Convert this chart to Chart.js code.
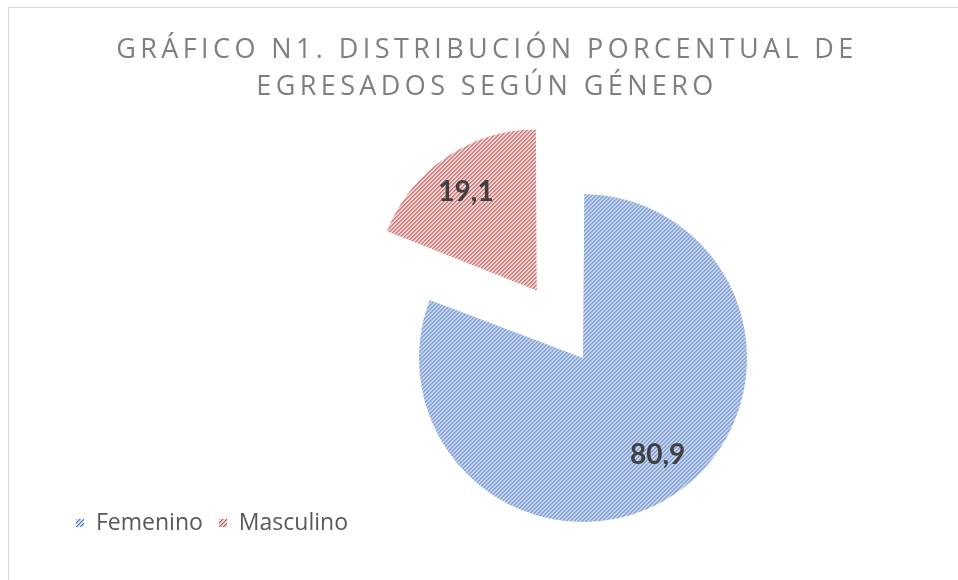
<!DOCTYPE html>
<html>
<head>
<meta charset="utf-8">
<script src="https://cdn.jsdelivr.net/npm/chart.js@4"></script>
<style>
  body { margin: 0; background: #fff; }
  #frame {
    position: absolute; left: 8px; top: 7px; width: 958px; height: 580px;
    border-left: 1px solid #d9d9d9; border-top: 1px solid #d9d9d9;
  }
  #chart { position: absolute; left: 0; top: 0; }
  #title {
    position: absolute; left: 8px; top: 29px; width: 958px; text-align: center;
    font-family: "Open Sans", sans-serif; font-size: 27px; line-height: 37px;
    letter-spacing: 4.4px; color: #7f7f7f;
  }
  #legend {
    position: absolute; left: 76px; top: 505px;
    font-family: "Open Sans", sans-serif; font-size: 23px; color: #595959;
    white-space: nowrap;
  }
  #legend span.item { margin-right: 16px; }
  #legend span.box {
    display: inline-block; width: 8px; height: 8px; margin-right: 12px;
    vertical-align: 3px;
  }
</style>
</head>
<body>
<div id="frame"></div>
<canvas id="chart" width="958" height="580"></canvas>
<div id="title">GRÁFICO N1. DISTRIBUCIÓN PORCENTUAL DE<br>EGRESADOS SEGÚN GÉNERO</div>
<div id="legend"></div>
<script>
// DATA
const categories = ["Femenino", "Masculino"];
const values = [80.9, 19.1];

// COLORS (line colour, light background)
const lineColors = ["#4472c4", "#c0504d"];
const fillColors = ["#dae3f3", "#f2dcdb"];

// hatched pattern, "/" stripes, 4px period
function makeTile(line, bg) {
  const c = document.createElement("canvas");
  c.width = 4;
  c.height = 4;
  const g = c.getContext("2d");
  g.fillStyle = bg;
  g.fillRect(0, 0, 4, 4);
  g.fillStyle = line;
  for (let x = 0; x < 4; x++) {
    g.globalAlpha = 1;
    g.fillRect(x, 3 - x, 1, 1);
    g.globalAlpha = 0.35;
    g.fillRect(x, (4 - x) % 4, 1, 1);
  }
  return c;
}

const ctx = document.getElementById("chart").getContext("2d");
const tiles = lineColors.map((l, i) => makeTile(l, fillColors[i]));
const patterns = tiles.map((t) => ctx.createPattern(t, "repeat"));

// LEGEND
const legend = document.getElementById("legend");
categories.forEach((cat, i) => {
  const item = document.createElement("span");
  item.className = "item";
  item.innerHTML = `<span class="box" style="background:url(${tiles[i].toDataURL()})"></span>${cat}`;
  legend.appendChild(item);
});

// data labels drawn inside each slice
const sliceLabels = {
  id: "sliceLabels",
  afterDatasetsDraw(chart) {
    const c = chart.ctx;
    const meta = chart.getDatasetMeta(0);
    c.save();
    c.font = "bold 28px Lato, sans-serif";
    c.fillStyle = "#404040";
    c.textAlign = "center";
    c.textBaseline = "middle";
    meta.data.forEach((arc, i) => {
      const mid = (arc.startAngle + arc.endAngle) / 2;
      const shift = (arc.options.offset || 0) / 4;
      const r = shift + arc.outerRadius * 0.78;
      const x = arc.x + Math.cos(mid) * r;
      const y = arc.y + Math.sin(mid) * r;
      c.fillText(values[i].toFixed(1).replace(".", ","), x + (i === 0 ? 6 : -2), y + (i === 0 ? -4 : 2));
    });
    c.restore();
  },
};

new Chart(ctx, {
  type: "pie",
  data: {
    labels: categories,
    datasets: [
      {
        data: values,
        backgroundColor: patterns,
        borderWidth: 0,
        offset: [32, 296],
        radius: 156,
      },
    ],
  },
  options: {
    responsive: false,
    animation: false,
    events: [],
    layout: { padding: { left: 199, right: 0, top: 123, bottom: 0 } },
    plugins: {
      legend: { display: false },
      title: { display: false },
      tooltip: { enabled: false },
    },
  },
  plugins: [sliceLabels],
});
</script>
</body>
</html>
